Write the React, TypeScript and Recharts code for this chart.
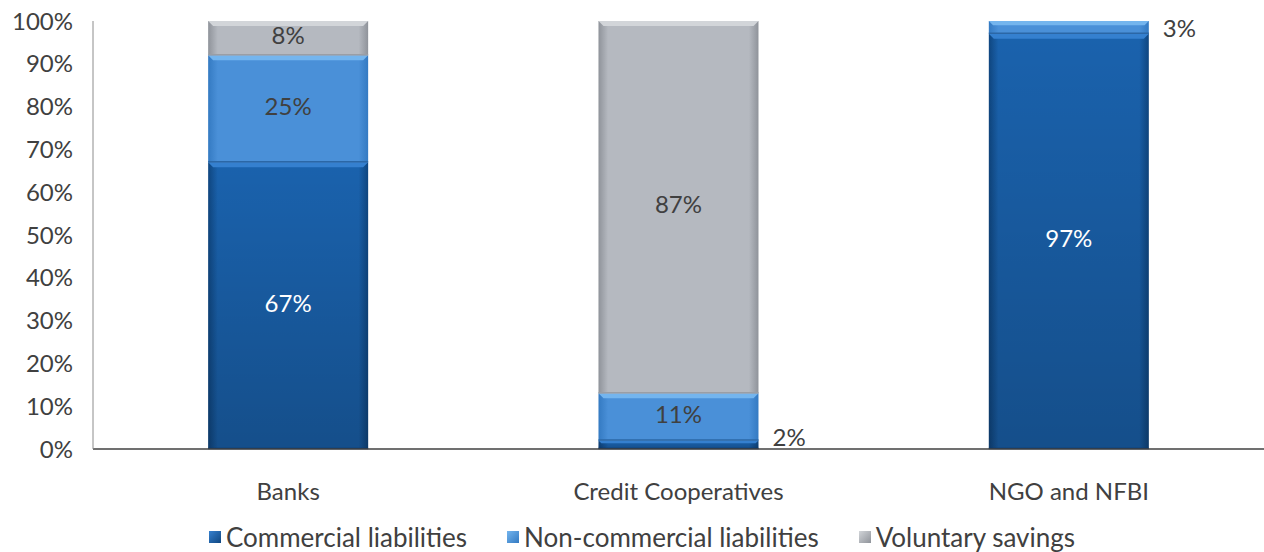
import React from "react";
import { BarChart, Bar, XAxis, YAxis, Legend, LabelList } from "recharts";

const categories = ["Banks", "Credit Cooperatives", "NGO and NFBI"];
const commercial = [67, 2, 97];
const nonCommercial = [25, 11, 3];
const voluntary = [8, 87, 0];
const yTicks = [0, 10, 20, 30, 40, 50, 60, 70, 80, 90, 100];

// labels that sit outside the bar, to its right
const outsideCommercial = [false, true, false];
const outsideNonCommercial = [false, false, true];

const data = categories.map((name, i) => ({
  name,
  commercial: commercial[i],
  nonCommercial: nonCommercial[i],
  voluntary: voluntary[i],
}));

const FONT = "Lato, 'Open Sans', sans-serif";
const TEXT = "#404040";
const FS = 24;

const tones: Record<string, { edge: string; mid: string; light: string; line: string }> = {
  commercial: { edge: "#0f4680", mid: "#1a62ad", light: "#3580cf", line: "#0d3a6c" },
  nonCommercial: { edge: "#347ac2", mid: "#4a90d8", light: "#74b5ee", line: "#2b67a6" },
  voluntary: { edge: "#8f939a", mid: "#b5b9c0", light: "#d2d5d9", line: "#9a9ea5" },
};

function BevelBar(props: any) {
  const { x, y, width, height, tone } = props;
  if (!height || height <= 0) return null;
  const t = tones[tone];
  const b = Math.min(5, height / 3);
  return (
    <g>
      <rect x={x} y={y} width={width} height={height} fill={`url(#grad-${tone})`} />
      {tone === "commercial" && <rect x={x} y={y} width={width} height={height} fill="url(#shade)" />}
      <polygon
        points={`${x},${y} ${x + width},${y} ${x + width - b},${y + b} ${x + b},${y + b}`}
        fill={t.light}
      />
      <line x1={x} x2={x + width} y1={y + height - 0.5} y2={y + height - 0.5} stroke={t.line} strokeWidth={1.5} />
    </g>
  );
}

function makeLabel(values: number[], outside: boolean[], color: string, outsideLift: number) {
  return (props: any) => {
    const { x, y, width, height, index } = props;
    const v = values[index];
    if (!v) return null;
    if (outside[index]) {
      // small segments: label beside the bar
      return (
        <text x={x + width + 14} y={y + height - outsideLift} fill={TEXT} fontSize={FS} fontFamily={FONT} dominantBaseline="middle">
          {v}%
        </text>
      );
    }
    return (
      <text x={x + width / 2} y={y + height / 2} fill={color} fontSize={FS} fontFamily={FONT} textAnchor="middle" dominantBaseline="middle">
        {v}%
      </text>
    );
  };
}

const legendItems = [
  { key: "commercial", label: "Commercial liabilities" },
  { key: "nonCommercial", label: "Non-commercial liabilities" },
  { key: "voluntary", label: "Voluntary savings" },
];

function LegendContent() {
  return (
    <div style={{ display: "flex", justifyContent: "center", gap: 40, height: 30, alignItems: "center", fontFamily: FONT, fontSize: 26, color: TEXT, paddingLeft: 20 }}>
      {legendItems.map((it) => (
        <div key={it.key} style={{ display: "flex", alignItems: "center", gap: 5 }}>
          <span
            style={{
              display: "inline-block",
              width: 12,
              height: 12,
              background: `linear-gradient(135deg, ${tones[it.key].light}, ${tones[it.key].edge})`,
            }}
          />
          <span>{it.label}</span>
        </div>
      ))}
    </div>
  );
}

export default function App() {
  return (
    <div style={{ position: "absolute", left: 0, top: 0, background: "#fff" }}>
      <BarChart
        width={1264}
        height={552}
        data={data}
        margin={{ top: 21, right: 0, bottom: 0, left: 0 }}
        barCategoryGap="29.5%"
      >
        <defs>
          {Object.keys(tones).map((k) => (
            <linearGradient key={k} id={`grad-${k}`} x1="0" y1="0" x2="1" y2="0">
              <stop offset="0%" stopColor={tones[k].edge} />
              <stop offset="6%" stopColor={tones[k].mid} />
              <stop offset="94%" stopColor={tones[k].mid} />
              <stop offset="100%" stopColor={tones[k].edge} />
            </linearGradient>
          ))}
          <linearGradient id="shade" x1="0" y1="0" x2="0" y2="1">
            <stop offset="0%" stopColor="#000" stopOpacity={0} />
            <stop offset="100%" stopColor="#000" stopOpacity={0.2} />
          </linearGradient>
        </defs>
        <XAxis
          dataKey="name"
          height={73}
          tickLine={false}
          tickMargin={28}
          axisLine={{ stroke: "#404040", strokeWidth: 1.5 }}
          tick={{ fill: TEXT, fontSize: FS, fontFamily: FONT }}
        />
        <YAxis
          width={93}
          domain={[0, 100]}
          ticks={yTicks}
          interval={0}
          axisLine={{ stroke: "#8c8c8c", strokeWidth: 1 }}
          tickLine={false}
          tickMargin={14}
          tickFormatter={(v) => `${v}%`}
          tick={{ fill: TEXT, fontSize: FS, fontFamily: FONT }}
        />
        <Legend verticalAlign="bottom" height={30} content={<LegendContent />} />
        <Bar dataKey="commercial" stackId="a" isAnimationActive={false} shape={(p: any) => <BevelBar {...p} tone="commercial" />}>
          <LabelList dataKey="commercial" content={makeLabel(commercial, outsideCommercial, "#ffffff", 9)} />
        </Bar>
        <Bar dataKey="nonCommercial" stackId="a" isAnimationActive={false} shape={(p: any) => <BevelBar {...p} tone="nonCommercial" />}>
          <LabelList dataKey="nonCommercial" content={makeLabel(nonCommercial, outsideNonCommercial, TEXT, 3)} />
        </Bar>
        <Bar dataKey="voluntary" stackId="a" isAnimationActive={false} shape={(p: any) => <BevelBar {...p} tone="voluntary" />}>
          <LabelList dataKey="voluntary" content={makeLabel(voluntary, [false, false, false], TEXT, 0)} />
        </Bar>
      </BarChart>
    </div>
  );
}
